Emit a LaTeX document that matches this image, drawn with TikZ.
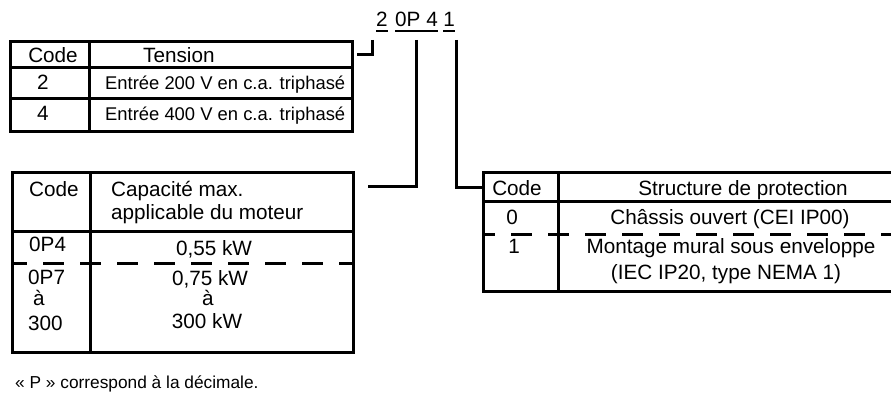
\documentclass[tikz,border=0pt]{standalone}
\usepackage{fontspec}
\setmainfont{Liberation Sans}
\begin{document}
\begin{tikzpicture}[x=1pt,y=-1pt,
  border/.style={line width=3pt},
  conn/.style={line width=3pt},
  ulin/.style={line width=1.6pt},
  dsh/.style={line width=3pt, dash pattern=on 21pt off 16pt},
  txt/.style={inner sep=0pt, font=\fontsize{20.7}{24}\selectfont},
  sml/.style={inner sep=0pt, font=\fontsize{18.4}{22}\selectfont},
  foot/.style={inner sep=0pt, font=\fontsize{17.3}{20}\selectfont}]
\useasboundingbox (0,0) rectangle (891,401);

% code string
\node[txt, anchor=base] (c2) at (382,27) {2};
\node[txt, anchor=base] (c0p4) at (416.5,27) {0P 4};
\node[txt, anchor=base] (c1) at (449,27) {1};
\foreach \n in {c2,c0p4,c1}
  \draw[ulin] ([yshift=-4pt]\n.base west) -- ([yshift=-4pt]\n.base east);

% top table (tension)
\draw[border] (10,42) rectangle (352,132);
\draw[border] (10,68) -- (352,68);
\draw[border] (10,99) -- (352,99);
\draw[border] (89.5,42) -- (89.5,132);
\node[txt, anchor=base] (tcode) at (53,63) {Code};
\node[txt, anchor=base west] (tten) at (143,63) {Tension};
\node[txt, anchor=base] (t2) at (43,90) {2};
\node[sml, anchor=base west] (t2t) at (105,90) {Entrée 200 V en c.a. triphasé};
\node[txt, anchor=base] (t4) at (43,121) {4};
\node[sml, anchor=base west] (t4t) at (105,121) {Entrée 400 V en c.a. triphasé};

% middle table (capacity)
\draw[border] (12,172) rectangle (353,352);
\draw[border] (12,231) -- (353,231);
\draw[dsh, dash phase=6pt] (12,263) -- (353,263);
\draw[border] (90,172) -- (90,352);
\node[txt, anchor=base west] (mcode) at (29,196) {Code};
\node[txt, anchor=base west] (mcap1) at (111,196) {Capacité max.};
\node[txt, anchor=base west] (mcap2) at (111,219) {applicable du moteur};
\node[txt, anchor=base west] (m0p4) at (29,251) {0P4};
\node[txt, anchor=base] (m055) at (214,255) {0,55 kW};
\node[txt, anchor=base west] (m0p7) at (28,284) {0P7};
\node[txt, anchor=base west] (ma) at (33,305) {à};
\node[txt, anchor=base west] (m300) at (28,330) {300};
\node[txt, anchor=base] (m075) at (210,285) {0,75 kW};
\node[txt, anchor=base] (ma2) at (208,305) {à};
\node[txt, anchor=base] (m300k) at (207,328) {300 kW};

% right table (protection), clipped at the picture edge
\begin{scope}
\clip (0,0) rectangle (891,401);
\draw[border] (483,172) rectangle (902,291);
\draw[border] (483,201) -- (902,201);
\draw[dsh, dash phase=9pt] (483,234) -- (902,234);
\draw[border] (558,172) -- (558,291);
\end{scope}
\coordinate (rleft) at (483,187);
\node[txt, anchor=base] (rcode) at (517,195) {Code};
\node[txt, anchor=base] (rstr) at (743,195) {Structure de protection};
\node[txt, anchor=base] (r0) at (512,224) {0};
\node[txt, anchor=base] (r0t) at (730,224) {Châssis ouvert (CEI IP00)};
\node[txt, anchor=base] (r1) at (514,253) {1};
\node[txt, anchor=base] (r1t) at (731,253) {Montage mural sous enveloppe};
\node[txt, anchor=base] (r1u) at (726,279) {(IEC IP20, type NEMA 1)};

% connectors
\coordinate (a2) at (372,40);
\coordinate (e2) at (357,55);
\draw[conn] (a2) |- (e2);
\coordinate (a0) at (416.5,40);
\coordinate (e0) at (368,186);
\draw[conn] (a0) |- (e0);
\coordinate (a1) at (456,40);
\draw[conn] (a1) |- (rleft);

% footnote
\node[foot, anchor=base west] (note) at (15,388) {« P » correspond à la décimale.};
\end{tikzpicture}
\end{document}
